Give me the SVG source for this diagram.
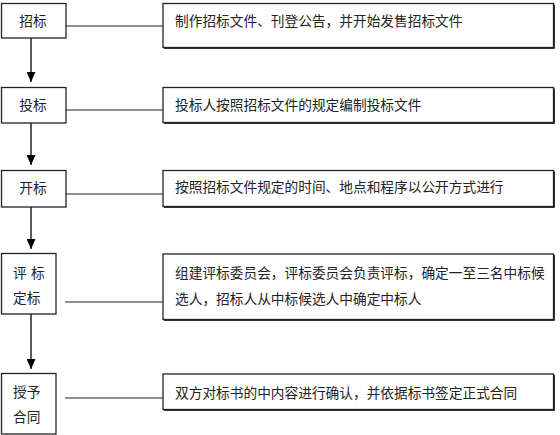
<svg xmlns="http://www.w3.org/2000/svg" width="560" height="435" viewBox="0 0 560 435">
<defs>
<marker id="arr" markerWidth="10" markerHeight="9" refX="10" refY="4.5" orient="auto" markerUnits="userSpaceOnUse" viewBox="0 0 10 9">
<path d="M0,0 L10,4.5 L0,9 Z" fill="#000"/>
</marker>
</defs>
<style>
.box{fill:#fff;stroke:#222;stroke-width:1.3}
.sh{fill:none;stroke:#333;stroke-width:1}
.t{font-family:"Noto Sans CJK SC","Noto Sans",sans-serif;font-size:13.7px;fill:#222}
.ln{stroke:#222;stroke-width:1.2;fill:none}
.ar{stroke:#000;stroke-width:1.3;fill:none;marker-end:url(#arr)}
</style>
<rect width="560" height="435" fill="#fff"/>
<g id="connectors">
<line class="ln" x1="66" y1="26" x2="163" y2="26"/>
<line class="ln" x1="66" y1="110" x2="163" y2="110"/>
<line class="ln" x1="66" y1="194" x2="163" y2="194"/>
<line class="ln" x1="65" y1="302" x2="163" y2="302"/>
<line class="ln" x1="65" y1="398" x2="163" y2="398"/>
<line class="ar" x1="31" y1="38" x2="31" y2="82"/>
<line class="ar" x1="31" y1="123" x2="31" y2="165"/>
<line class="ar" x1="31" y1="207" x2="31" y2="249"/>
<line class="ar" x1="31" y1="314" x2="31" y2="369"/>
</g>
<g id="n1">
<rect class="box" x="1.5" y="3.5" width="64.5" height="34.5"/>
<text class="t" x="33" y="26" text-anchor="middle">招标</text>
</g>
<g id="d1">
<polyline class="sh" points="554.5,4.5 554.5,48.5 164,48.5"/>
<rect class="box" x="163" y="3.5" width="390.5" height="44"/>
<text class="t" x="175" y="26">制作招标文件、刊登公告，并开始发售招标文件</text>
</g>
<g id="n2">
<rect class="box" x="1.5" y="87.5" width="64.5" height="35.5"/>
<text class="t" x="33" y="110" text-anchor="middle">投标</text>
</g>
<g id="d2">
<polyline class="sh" points="554.5,88.5 554.5,123.5 164,123.5"/>
<rect class="box" x="163" y="87.5" width="390.5" height="35"/>
<text class="t" x="175" y="110">投标人按照招标文件的规定编制投标文件</text>
</g>
<g id="n3">
<rect class="box" x="1.5" y="170.5" width="64.5" height="36.5"/>
<text class="t" x="33" y="193" text-anchor="middle">开标</text>
</g>
<g id="d3">
<polyline class="sh" points="554.5,171.5 554.5,207.5 164,207.5"/>
<rect class="box" x="163" y="170.5" width="390.5" height="36"/>
<text class="t" x="175" y="192">按照招标文件规定的时间、地点和程序以公开方式进行</text>
</g>
<g id="n4">
<rect class="box" x="1.5" y="253.5" width="54.5" height="60.5"/>
<text class="t" x="13" y="278">评</text>
<text class="t" x="31" y="278">标</text>
<text class="t" x="13" y="303">定标</text>
</g>
<g id="d4">
<polyline class="sh" points="554.5,255 554.5,320.5 164,320.5"/>
<rect class="box" x="163" y="254" width="390.5" height="65.5"/>
<text class="t" x="175" y="278">组建评标委员会，评标委员会负责评标，确定一至三名中标候</text>
<text class="t" x="175" y="304">选人，招标人从中标候选人中确定中标人</text>
</g>
<g id="n5">
<rect class="box" x="1.5" y="373.5" width="54.5" height="60.5"/>
<text class="t" x="13" y="397">授予</text>
<text class="t" x="13" y="422">合同</text>
</g>
<g id="d5">
<polyline class="sh" points="554.5,375 554.5,410.5 164,410.5"/>
<rect class="box" x="163" y="374" width="390.5" height="35.5"/>
<text class="t" x="175" y="398">双方对标书的中内容进行确认，并依据标书签定正式合同</text>
</g>
</svg>
